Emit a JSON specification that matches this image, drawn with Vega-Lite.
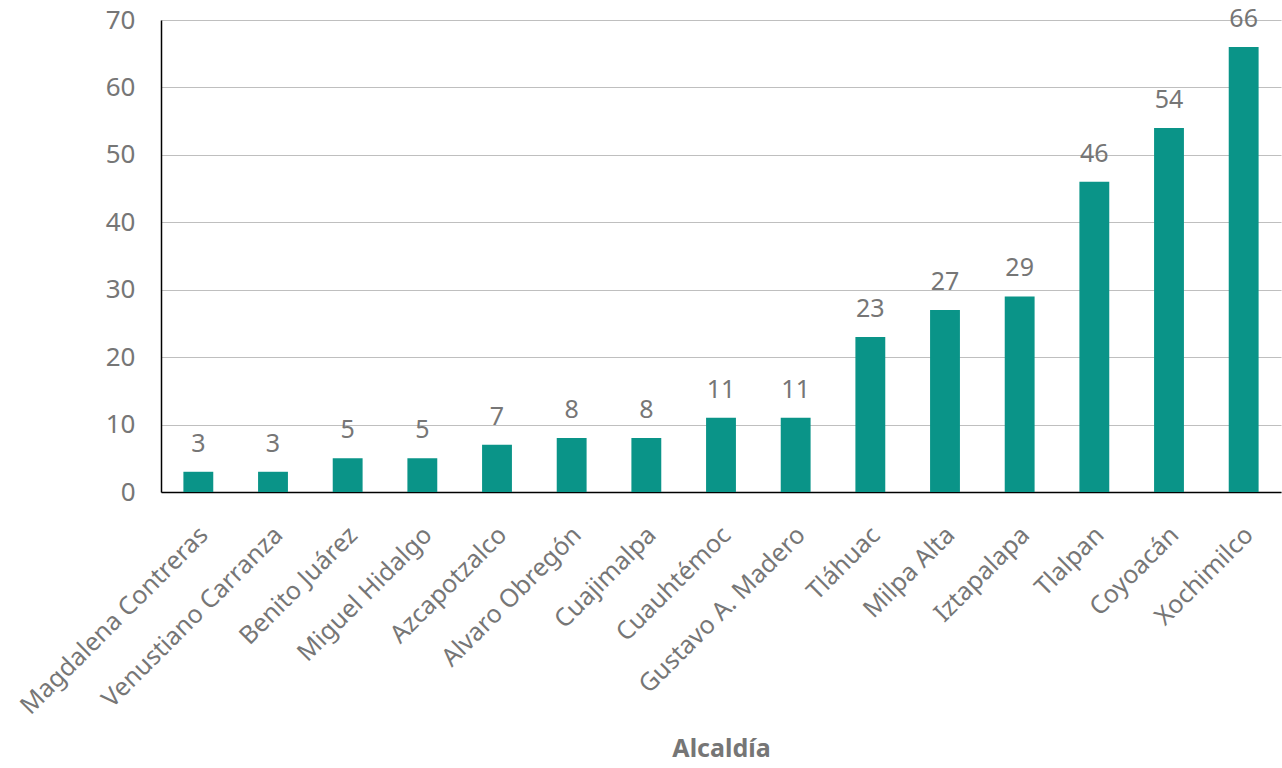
{
  "$schema": "https://vega.github.io/schema/vega-lite/v6.json",
  "width": 1120,
  "height": 472,
  "autosize": {"type": "none"},
  "padding": {"left": 161, "top": 20, "right": 1, "bottom": 276},
  "background": "white",
  "config": {
    "view": {"stroke": null},
    "font": "Noto Sans"
  },
  "data": {
    "values": [
      {"alcaldia": "Magdalena Contreras", "valor": 3},
      {"alcaldia": "Venustiano Carranza", "valor": 3},
      {"alcaldia": "Benito Juárez", "valor": 5},
      {"alcaldia": "Miguel Hidalgo", "valor": 5},
      {"alcaldia": "Azcapotzalco", "valor": 7},
      {"alcaldia": "Alvaro Obregón", "valor": 8},
      {"alcaldia": "Cuajimalpa", "valor": 8},
      {"alcaldia": "Cuauhtémoc", "valor": 11},
      {"alcaldia": "Gustavo A. Madero", "valor": 11},
      {"alcaldia": "Tláhuac", "valor": 23},
      {"alcaldia": "Milpa Alta", "valor": 27},
      {"alcaldia": "Iztapalapa", "valor": 29},
      {"alcaldia": "Tlalpan", "valor": 46},
      {"alcaldia": "Coyoacán", "valor": 54},
      {"alcaldia": "Xochimilco", "valor": 66}
    ]
  },
  "encoding": {
    "x": {
      "field": "alcaldia",
      "type": "nominal",
      "sort": null,
      "scale": {"paddingInner": 0.6, "paddingOuter": 0.3},
      "axis": {
        "title": "Alcaldía",
        "titleFont": "Noto Sans",
        "titleFontSize": 25,
        "titleFontWeight": "bold",
        "titleColor": "#767676",
        "titlePadding": 44,
        "labelAngle": -45,
        "labelAlign": "right",
        "labelBaseline": "top",
        "labelFontSize": 25,
        "labelColor": "#767676",
        "labelPadding": 30,
        "labelOffset": -3,
        "labelLimit": 0,
        "ticks": false,
        "domainColor": "#000000",
        "domainWidth": 1.5
      }
    },
    "y": {
      "field": "valor",
      "type": "quantitative",
      "scale": {"domain": [0, 70], "nice": false},
      "axis": {
        "title": null,
        "values": [0, 10, 20, 30, 40, 50, 60, 70],
        "labelFontSize": 26,
        "labelColor": "#767676",
        "labelPadding": 26,
        "ticks": false,
        "domainColor": "#000000",
        "domainWidth": 1.5,
        "gridColor": "#bfbfbf",
        "gridWidth": 1.2
      }
    }
  },
  "layer": [
    {"mark": {"type": "bar", "color": "#0a9488"}},
    {
      "mark": {"type": "text", "baseline": "bottom", "dy": -15, "fontSize": 25, "color": "#767676"},
      "encoding": {"text": {"field": "valor", "type": "quantitative"}}
    }
  ]
}
